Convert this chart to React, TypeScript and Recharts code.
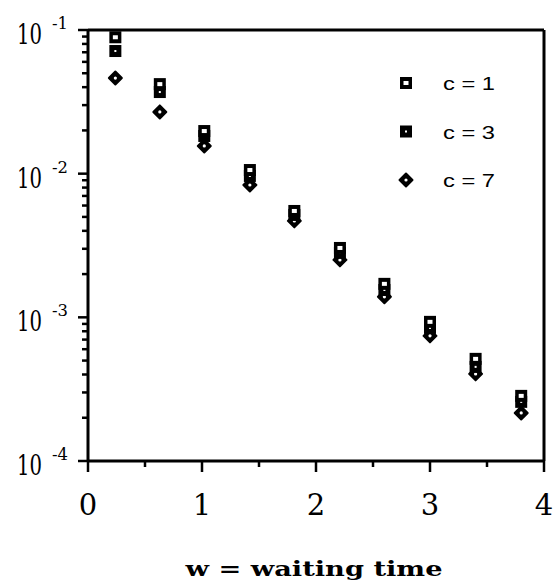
import React from 'react';
import { ScatterChart, Scatter, XAxis, YAxis, ReferenceLine, Legend, Label } from 'recharts';

// ---- data ----
const waitTimes = [0.24, 0.63, 1.02, 1.42, 1.81, 2.21, 2.6, 3.0, 3.4, 3.8];
const c1Values = [0.089, 0.042, 0.0198, 0.0106, 0.0055, 0.00304, 0.00171, 0.00093, 0.000514, 0.000284];
const c3Values = [0.0714, 0.037, 0.0183, 0.00964, 0.00516, 0.00281, 0.00155, 0.000844, 0.000452, 0.000258];
const c7Values = [0.0463, 0.0269, 0.0156, 0.00834, 0.00469, 0.00251, 0.00139, 0.000743, 0.000404, 0.000216];
const seriesLabels = ['c = 1', 'c = 3', 'c = 7'];
const xMajorTicks = [0, 1, 2, 3, 4];
const xMinorTicks = [0.5, 1.5, 2.5, 3.5];
const yDecades = [-4, -3, -2, -1];
const yMinorMultipliers = [2, 3, 4, 5, 6, 7, 8, 9];
const xTitle = 'w = waiting time';

const toPoints = (vals: number[]) => waitTimes.map((w, i) => ({ w, v: vals[i] }));
const c1Data = toPoints(c1Values);
const c3Data = toPoints(c3Values);
const c7Data = toPoints(c7Values);

const yTicks: number[] = [];
yDecades.forEach((d, i) => {
  yTicks.push(Math.pow(10, d));
  if (i < yDecades.length - 1) {
    yMinorMultipliers.forEach((m) => yTicks.push(m * Math.pow(10, d)));
  }
});
const xTicks = [...xMajorTicks, ...xMinorTicks].sort((a, b) => a - b);

const isMajorY = (v: number) => {
  const l = Math.log10(v);
  return Math.abs(l - Math.round(l)) < 1e-6;
};

const SERIF = "'DejaVu Serif', 'Liberation Serif', serif";

// ---- marker shapes ----
const OpenSquare = ({ cx, cy }: any) => (
  <g>
    <rect x={cx - 6} y={cy - 6} width={12} height={12} fill="#000" />
    <rect x={cx - 2.5} y={cy - 2} width={5} height={4} fill="#fff" />
  </g>
);
const FilledSquare = ({ cx, cy }: any) => (
  <g>
    <rect x={cx - 6} y={cy - 6} width={12} height={12} fill="#000" />
    <rect x={cx - 1} y={cy - 1} width={2} height={2} fill="#fff" />
  </g>
);
const Diamond = ({ cx, cy }: any) => (
  <g>
    <polygon
      points={`${cx},${cy - 6.5} ${cx + 6.5},${cy} ${cx},${cy + 6.5} ${cx - 6.5},${cy}`}
      fill="#000"
      stroke="#000"
      strokeWidth={2}
      strokeLinejoin="round"
    />
    <circle cx={cx} cy={cy} r={1.6} fill="#fff" />
  </g>
);
const shapes = [OpenSquare, FilledSquare, Diamond];

// ---- ticks ----
const YTick = (props: any) => {
  const { x, y, payload } = props;
  const v = payload.value;
  const major = isMajorY(v);
  const exp = Math.round(Math.log10(v));
  return (
    <g>
      <line x1={x} x2={x - (major ? 10 : 6)} y1={y} y2={y} stroke="#000" strokeWidth={2.5} />
      {major && (
        <g fontFamily={SERIF} fill="#000">
          <text x={x - 71} y={y + 14} fontSize={28} textLength={25} lengthAdjust="spacingAndGlyphs">
            10
          </text>
          <text x={x - 36} y={y - 1} fontSize={17} textLength={16} lengthAdjust="spacingAndGlyphs">
            {String(exp)}
          </text>
        </g>
      )}
    </g>
  );
};

const XTick = (props: any) => {
  const { x, y, payload } = props;
  const v = payload.value;
  const major = xMajorTicks.includes(v);
  return (
    <g>
      <line x1={x} x2={x} y1={y} y2={y + (major ? 11 : 6)} stroke="#000" strokeWidth={2.5} />
      {major && (
        <text x={x} y={y + 54} fontSize={29} textAnchor="middle" fontFamily={SERIF} fill="#000">
          {String(v)}
        </text>
      )}
    </g>
  );
};

const XTitle = (props: any) => {
  const vb = props.viewBox || { x: 88, y: 461, width: 456, height: 126 };
  return (
    <text
      x={vb.x + vb.width / 2 - 2}
      y={vb.y + 115}
      textAnchor="middle"
      fontSize={21}
      fontWeight="bold"
      fontFamily={SERIF}
      textLength={257}
      lengthAdjust="spacingAndGlyphs"
      fill="#000"
    >
      {xTitle}
    </text>
  );
};

const LegendContent = () => (
  <svg width={130} height={125} style={{ display: 'block' }}>
    {seriesLabels.map((label, i) => {
      const Shape = shapes[i];
      const cy = 13 + i * 48.5;
      return (
        <g key={label}>
          <Shape cx={16} cy={cy} />
          <text
            x={53}
            y={cy + 7}
            fontSize={19}
            fontFamily="'Liberation Sans', Arial, sans-serif"
            textLength={52}
            lengthAdjust="spacingAndGlyphs"
            fill="#000"
          >
            {label}
          </text>
        </g>
      );
    })}
  </svg>
);

export default function App() {
  return (
    <div style={{ position: 'absolute', left: 0, top: 0, background: '#fff' }}>
      <ScatterChart width={556} height={587} margin={{ top: 30, right: 12, bottom: 0, left: 0 }}>
        <XAxis
          dataKey="w"
          type="number"
          domain={[0, 4]}
          ticks={xTicks}
          interval={0}
          allowDataOverflow
          tickSize={0}
          tickMargin={0}
          tickLine={false}
          tick={<XTick />}
          axisLine={{ stroke: '#000', strokeWidth: 3 }}
          height={126}
        >
          <Label content={<XTitle />} />
        </XAxis>
        <YAxis
          dataKey="v"
          type="number"
          scale="log"
          domain={[1e-4, 1e-1]}
          ticks={yTicks}
          interval={0}
          allowDataOverflow
          tickSize={0}
          tickMargin={0}
          tickLine={false}
          tick={<YTick />}
          axisLine={{ stroke: '#000', strokeWidth: 3 }}
          width={88}
        />
        <ReferenceLine y={0.1} stroke="#000" strokeWidth={3} ifOverflow="extendDomain" />
        <ReferenceLine x={4} stroke="#000" strokeWidth={3} ifOverflow="extendDomain" />
        <Scatter data={c7Data} shape={Diamond} isAnimationActive={false} />
        <Scatter data={c3Data} shape={FilledSquare} isAnimationActive={false} />
        <Scatter data={c1Data} shape={OpenSquare} isAnimationActive={false} />
        <Legend
          layout="horizontal"
          verticalAlign="middle"
          align="center"
          content={<LegendContent />}
          wrapperStyle={{ position: 'absolute', left: 390, top: 70, width: 130, height: 125 }}
        />
      </ScatterChart>
    </div>
  );
}
